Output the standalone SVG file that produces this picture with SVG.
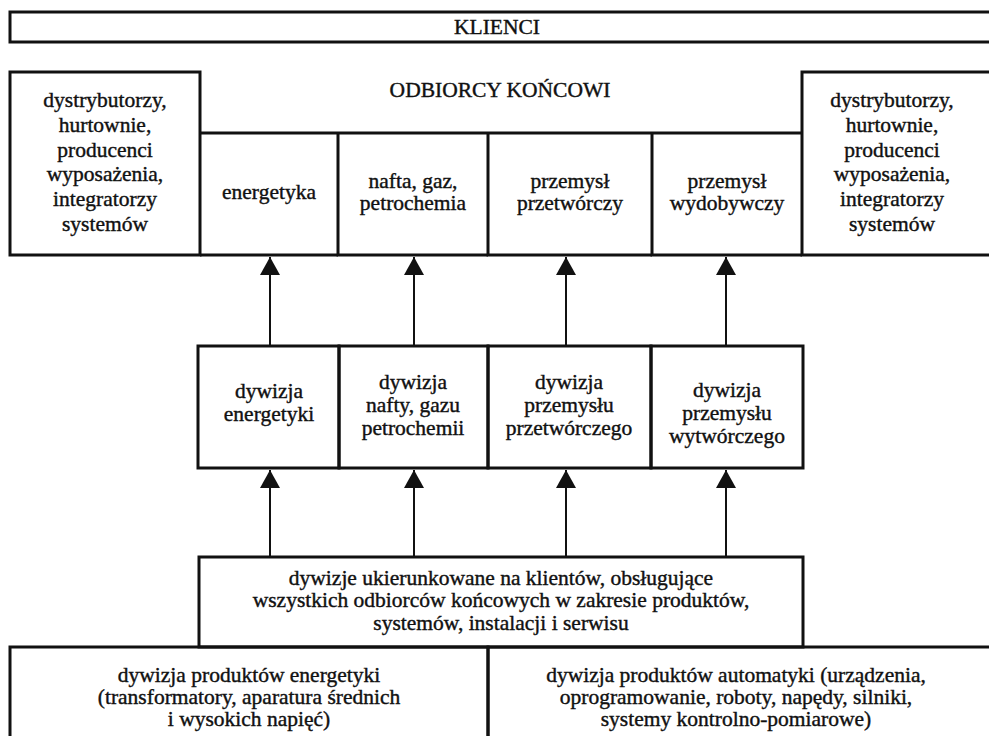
<svg xmlns="http://www.w3.org/2000/svg" width="989" height="736" viewBox="0 0 989 736">
<style>
  .box { fill: none; stroke: #111; stroke-width: 3; }
  .ln { stroke: #111; stroke-width: 3; fill: none; }
  .t { font-family: "Liberation Serif", "Times New Roman", serif; font-size: 21.5px; fill: #111; stroke: #111; stroke-width: 0.4; text-anchor: middle; }
  .conn { stroke: #111; stroke-width: 2; fill: none; marker-end: url(#arr); }
</style>
<defs>
  <marker id="arr" viewBox="0 0 18 20" refX="18" refY="10" markerWidth="18" markerHeight="20" markerUnits="userSpaceOnUse" orient="auto">
    <path d="M0,0 L18,10 L0,20 Z" fill="#111"/>
  </marker>
</defs>
<rect width="989" height="736" fill="#fff"/>

<g id="klienci">
  <rect class="box" x="10" y="12" width="990" height="30"/>
  <text class="t" x="497" y="34">KLIENCI</text>
</g>

<g id="dystrybutorzy-lewy">
  <rect class="box" x="10" y="72" width="190" height="183"/>
  <text class="t" x="105" y="107">dystrybutorzy,</text>
  <text class="t" x="105" y="132">hurtownie,</text>
  <text class="t" x="105" y="157">producenci</text>
  <text class="t" x="105" y="181">wyposażenia,</text>
  <text class="t" x="105" y="206">integratorzy</text>
  <text class="t" x="105" y="231">systemów</text>
</g>

<g id="dystrybutorzy-prawy">
  <rect class="box" x="802" y="72" width="200" height="183"/>
  <text class="t" x="892" y="107">dystrybutorzy,</text>
  <text class="t" x="892" y="132">hurtownie,</text>
  <text class="t" x="892" y="157">producenci</text>
  <text class="t" x="892" y="181">wyposażenia,</text>
  <text class="t" x="892" y="206">integratorzy</text>
  <text class="t" x="892" y="231">systemów</text>
</g>

<g id="odbiorcy-koncowi">
  <text class="t" x="500" y="97">ODBIORCY KOŃCOWI</text>
  <path class="ln" d="M200,133 H802"/>
</g>

<g id="energetyka">
  <path class="ln" d="M200,255 H338"/>
  <text class="t" x="269" y="199">energetyka</text>
</g>
<g id="nafta-gaz">
  <path class="ln" d="M338,133 V255 H488"/>
  <text class="t" x="413" y="188">nafta, gaz,</text>
  <text class="t" x="413" y="210">petrochemia</text>
</g>
<g id="przemysl-przetworczy">
  <path class="ln" d="M488,133 V255 H652"/>
  <text class="t" x="570" y="188">przemysł</text>
  <text class="t" x="570" y="210">przetwórczy</text>
</g>
<g id="przemysl-wydobywczy">
  <path class="ln" d="M652,133 V255 H802"/>
  <text class="t" x="727" y="188">przemysł</text>
  <text class="t" x="727" y="210">wydobywczy</text>
</g>

<g id="dywizja-energetyki">
  <rect class="box" x="198" y="346" width="141" height="122"/>
  <text class="t" x="269" y="398">dywizja</text>
  <text class="t" x="269" y="421">energetyki</text>
</g>
<g id="dywizja-nafty">
  <rect class="box" x="339" y="346" width="149" height="122"/>
  <text class="t" x="413" y="389">dywizja</text>
  <text class="t" x="413" y="412">nafty, gazu</text>
  <text class="t" x="413" y="435">petrochemii</text>
</g>
<g id="dywizja-przetworczego">
  <rect class="box" x="488" y="346" width="163" height="122"/>
  <text class="t" x="569" y="389">dywizja</text>
  <text class="t" x="569" y="412">przemysłu</text>
  <text class="t" x="569" y="435">przetwórczego</text>
</g>
<g id="dywizja-wytworczego">
  <rect class="box" x="651" y="346" width="152" height="122"/>
  <text class="t" x="727" y="397">dywizja</text>
  <text class="t" x="727" y="420">przemysłu</text>
  <text class="t" x="727" y="443">wytwórczego</text>
</g>

<g id="dywizje-ukierunkowane">
  <rect class="box" x="199" y="557" width="604" height="90"/>
  <text class="t" x="501" y="585">dywizje ukierunkowane na klientów, obsługujące</text>
  <text class="t" x="501" y="607">wszystkich odbiorców końcowych w zakresie produktów,</text>
  <text class="t" x="501" y="630">systemów, instalacji i serwisu</text>
</g>

<g id="produkty-energetyki">
  <rect class="box" x="10" y="647" width="478" height="100"/>
  <text class="t" x="249" y="682">dywizja produktów energetyki</text>
  <text class="t" x="249" y="704">(transformatory, aparatura średnich</text>
  <text class="t" x="249" y="726">i wysokich napięć)</text>
</g>
<g id="produkty-automatyki">
  <rect class="box" x="488" y="647" width="520" height="100"/>
  <text class="t" x="736" y="682">dywizja produktów automatyki (urządzenia,</text>
  <text class="t" x="736" y="704">oprogramowanie, roboty, napędy, silniki,</text>
  <text class="t" x="736" y="726">systemy kontrolno-pomiarowe)</text>
</g>

<g id="connectors">
  <path class="conn" d="M270,346 V257"/>
  <path class="conn" d="M414,346 V257"/>
  <path class="conn" d="M566,346 V257"/>
  <path class="conn" d="M726,346 V257"/>
  <path class="conn" d="M270,557 V470"/>
  <path class="conn" d="M414,557 V470"/>
  <path class="conn" d="M566,557 V470"/>
  <path class="conn" d="M726,557 V470"/>
</g>
</svg>
